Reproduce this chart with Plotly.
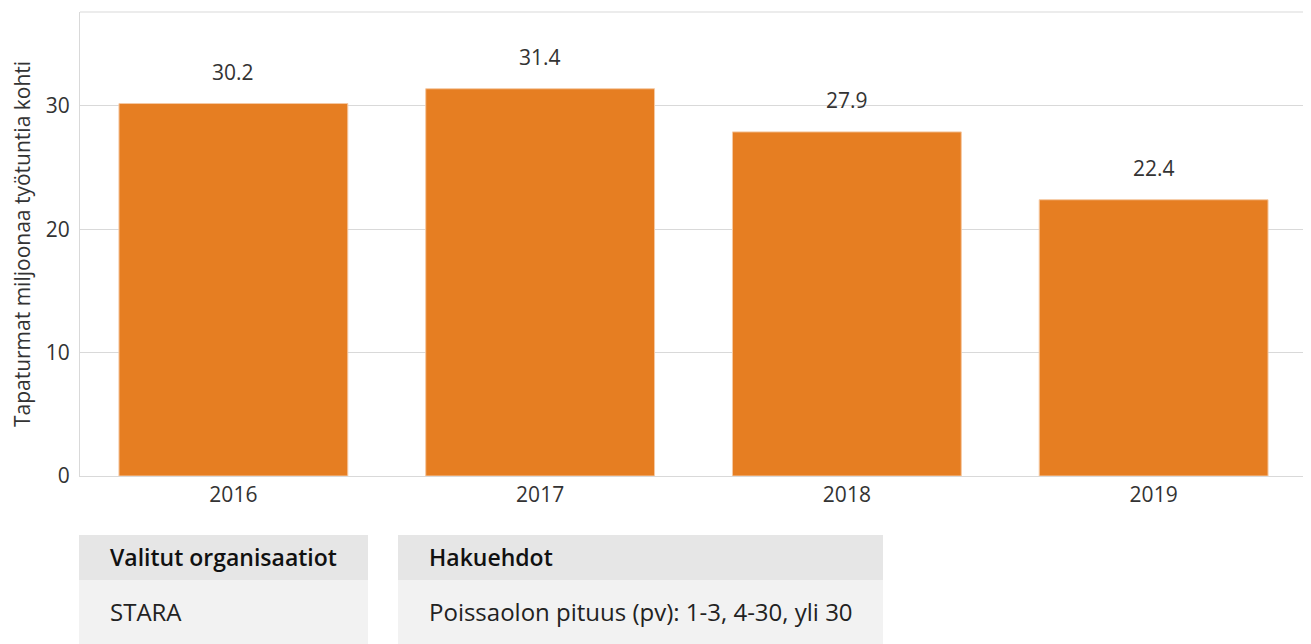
import plotly.graph_objects as go

years = ["2016", "2017", "2018", "2019"]
values = [30.2, 31.4, 27.9, 22.4]
value_labels = ["30.2", "31.4", "27.9", "22.4"]
y_title = "Tapaturmat miljoonaa työtuntia kohti"
table_headers = ["Valitut organisaatiot", "Hakuehdot"]
table_values = ["STARA", "Poissaolon pituus (pv): 1-3, 4-30, yli 30"]

OFF = 8  # page body margin
W, H = 1311 - OFF, 644 - OFF
# plot area in screen pixels
L, R, T, B = 80, 1307, 12, 476
FONT = "Open Sans"

def px(x):
    return (x - L) / (R - L)

def py(y):
    return (B - y) / (B - T)

fig = go.Figure()
fig.add_trace(go.Bar(
    x=years, y=values,
    marker_color="#e67e22",
    marker_line_color="#f5c9a3",
    marker_line_width=1,
))

annotations = []
# category axis: annotation x given as category index
for i, (v, lab) in enumerate(zip(values, value_labels)):
    annotations.append(dict(x=i, y=v, xref="x", yref="y", text=lab, showarrow=False,
                            yanchor="bottom", yshift=16,
                            font=dict(family=FONT, size=21, color="#333333")))

shapes = []
boxes = [(79, 368), (398, 883)]
for (x0, x1), head, val in zip(boxes, table_headers, table_values):
    shapes.append(dict(type="rect", xref="paper", yref="paper", x0=px(x0), x1=px(x1),
                       y0=py(650), y1=py(580), fillcolor="#f2f2f2", line=dict(width=0), layer="below"))
    shapes.append(dict(type="rect", xref="paper", yref="paper", x0=px(x0), x1=px(x1),
                       y0=py(580), y1=py(535), fillcolor="#e6e6e6", line=dict(width=0), layer="below"))
    annotations.append(dict(x=px(x0 + 29), y=py(557), xref="paper", yref="paper", text=head,
                            showarrow=False, xanchor="left", yanchor="middle",
                            font=dict(family=FONT, size=23, color="#111111", weight=600)))
    annotations.append(dict(x=px(x0 + 29), y=py(611), xref="paper", yref="paper", text=val,
                            showarrow=False, xanchor="left", yanchor="middle",
                            font=dict(family=FONT, size=24, color="#222222")))

shapes.append(dict(type="line", xref="paper", yref="paper", x0=0, x1=1, y0=1, y1=1,
                   line=dict(color="#d9d9d9", width=1)))

fig.update_layout(
    width=W, height=H,
    margin=dict(l=L - OFF, r=W - (R - OFF), t=T - OFF, b=H - (B - OFF), pad=0),
    paper_bgcolor="white", plot_bgcolor="white",
    bargap=0.254,
    showlegend=False,
    font=dict(family=FONT, size=21, color="#333333"),
    annotations=annotations,
    shapes=shapes,
)
fig.update_xaxes(type="category", range=[-0.5, 3.5], showline=True, linecolor="#d9d9d9",
                 linewidth=1, ticks="", showgrid=False, tickfont=dict(size=21, color="#333333"))
fig.update_yaxes(range=[0, 37.62], tickvals=[0, 10, 20, 30], showgrid=True, gridcolor="#d9d9d9",
                 showline=True, linecolor="#d9d9d9", linewidth=1, zeroline=False, ticks="",
                 ticklabelstandoff=5, tickfont=dict(size=21, color="#333333"),
                 title=dict(text=y_title, font=dict(size=21, color="#333333"), standoff=12))

fig.write_html("out.html")
